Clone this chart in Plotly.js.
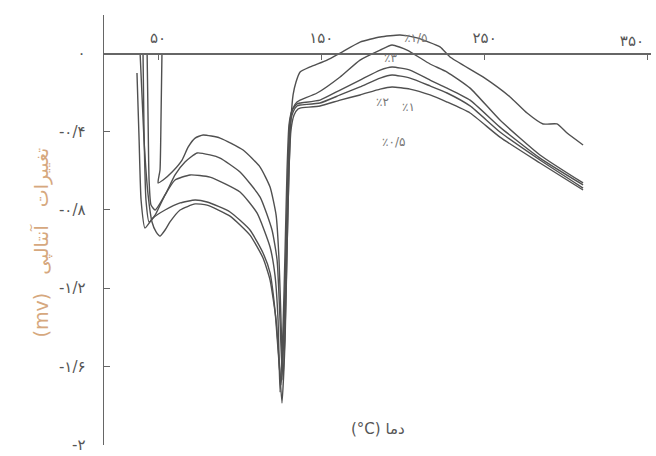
<!DOCTYPE html>
<html>
<head>
<meta charset="utf-8">
<script src="https://cdn.plot.ly/plotly-3.0.1.min.js"></script>
<style>html,body{margin:0;padding:0;background:#fff;}#chart{width:656px;height:456px;}</style>
</head>
<body>
<div id="chart"></div>
<script>
// Temperature (°C) and enthalpy change (mV)
const t15 = [52.4,51.8,51.2,50,53.1,58.6,64.7,68.4,72.7,77.6,88.0,102.1,112.5,118.6,122.3,124.1,125.3,126.5,127.8,129.0,130.2,131.4,132.7,134.5,137.0,143.1,153.5,161.5,173.7,186.0,198.2,208.6,222.7,228.8,249.0,265.6,276.0,285.8,294.3,300.5,310.3];
const v15 = [0,-0.342,-0.597,-0.663,-0.648,-0.607,-0.546,-0.480,-0.434,-0.418,-0.434,-0.495,-0.582,-0.684,-0.827,-1.056,-1.362,-1.668,-1.413,-1.005,-0.597,-0.342,-0.214,-0.148,-0.097,-0.071,-0.036,0,0.056,0.082,0.092,0.077,0.031,-0.020,-0.122,-0.224,-0.306,-0.362,-0.362,-0.408,-0.469];

const t3 = [43.3,43.9,44.5,45.7,48.2,54.3,60.4,66.5,73.9,81.8,88.0,100.2,112.5,119.8,122.9,124.7,125.9,127.2,128.4,129.6,130.8,132.7,135.1,137.0,147.4,161.5,173.7,186.0,193.3,202.5,216.6,227.0,241.1,259.4,283.9,310.3];
const v3 = [0,-0.342,-0.648,-0.776,-0.801,-0.724,-0.622,-0.556,-0.510,-0.520,-0.536,-0.607,-0.735,-0.903,-1.056,-1.362,-1.617,-1.362,-1.005,-0.597,-0.342,-0.281,-0.250,-0.240,-0.204,-0.122,-0.036,0.015,0.041,0.015,-0.056,-0.097,-0.179,-0.342,-0.520,-0.663];

const t2 = [40.8,41.4,42.6,44.5,48.2,54.3,60.4,69.6,81.8,100.2,110.6,118.6,121.6,123.5,124.7,126.5,127.8,129.0,130.2,132.1,135.1,137.0,149.2,161.5,173.7,186.0,193.3,204.3,216.6,227.0,241.1,259.4,283.9,310.3];
const v2 = [0,-0.393,-0.750,-0.862,-0.827,-0.724,-0.648,-0.622,-0.633,-0.709,-0.816,-0.990,-1.133,-1.362,-1.730,-1.413,-1.005,-0.597,-0.367,-0.291,-0.260,-0.255,-0.240,-0.189,-0.138,-0.087,-0.071,-0.087,-0.138,-0.179,-0.240,-0.378,-0.536,-0.673];

const t1 = [37.1,38.4,39.6,42.0,46.9,54.3,63.5,72.7,80.0,94.1,106.3,114.3,118.6,121.6,123.5,125.3,127.2,128.4,129.6,130.8,132.7,135.1,137.0,149.2,161.5,173.7,186.0,193.3,204.3,216.6,227.0,241.1,259.4,283.9,310.3];
const v1 = [-0.102,-0.444,-0.750,-0.893,-0.842,-0.801,-0.765,-0.750,-0.760,-0.811,-0.903,-1.020,-1.122,-1.311,-1.515,-1.694,-1.413,-1.005,-0.597,-0.367,-0.301,-0.270,-0.265,-0.255,-0.214,-0.173,-0.128,-0.112,-0.128,-0.168,-0.204,-0.270,-0.403,-0.546,-0.689];

const t05 = [39.0,41.4,43.9,46.3,48.8,51.2,54.3,57.3,63.5,72.7,80.0,94.1,106.3,114.3,118.6,122.3,124.1,125.9,127.8,129.0,130.2,131.4,133.3,135.7,137.0,149.2,161.5,173.7,186.0,193.3,204.3,216.6,227.0,241.1,259.4,283.9,310.3];
const v05 = [0,-0.444,-0.724,-0.862,-0.913,-0.934,-0.903,-0.862,-0.801,-0.770,-0.776,-0.832,-0.929,-1.046,-1.158,-1.362,-1.566,-1.786,-1.464,-1.005,-0.597,-0.393,-0.316,-0.286,-0.281,-0.270,-0.240,-0.214,-0.184,-0.173,-0.184,-0.214,-0.250,-0.306,-0.429,-0.561,-0.699];

const xTickVals = [50,150,250,350];
const xTickText = ['۵۰','۱۵۰','۲۵۰','۳۵۰'];
const yTickVals = [0,-0.4,-0.8,-1.2,-1.6,-2];
const yTickText = ['۰','-۰/۴','-۰/۸','-۱/۲','-۱/۶','-۲'];

const seriesLabels = ['٪۱/۵','٪۳','٪۲','٪۱','٪۰/۵'];
const labelT = [207.4,192.1,187.2,203.1,193.9];
const labelV = [0.077,-0.026,-0.250,-0.276,-0.454];

const xs = [t15,t3,t2,t1,t05];
const ys = [v15,v3,v2,v1,v05];

const lineColor = '#505050';
const traces = xs.map((x,i)=>({
  x:x, y:ys[i], type:'scatter', mode:'lines', name:seriesLabels[i],
  line:{color:lineColor,width:1.4,shape:'spline',smoothing:0.5},
  hoverinfo:'skip'
}));
// empty trace so the overlaying axis carrying the last tick label is drawn
traces.push({x:[], y:[], xaxis:'x2', yaxis:'y', type:'scatter', mode:'lines', hoverinfo:'skip'});

const font = 'DejaVu Sans, Noto Sans, sans-serif';
const annotations = seriesLabels.map((s,i)=>({
  x:labelT[i], y:labelV[i], xref:'x', yref:'y', text:s, showarrow:false,
  font:{family:font,size:12,color:'#777'}
}));
annotations.push({
  x:-0.14, y:0.472, xref:'paper', yref:'paper', text:'(mv)   تغییرات   آنتالپی',
  textangle:-90, showarrow:false, font:{family:font,size:19,color:'#d6a87e'}
});
annotations.push({
  x:0.501, y:0.012, xref:'paper', yref:'paper', text:'(°C) دما',
  showarrow:false, font:{family:font,size:15,color:'#555'}
});

const xRange = [16.9,351.9];
const layout = {
  width:656, height:456,
  margin:{l:104,r:5,t:15,b:11},
  paper_bgcolor:'#fff', plot_bgcolor:'#fff',
  showlegend:false,
  xaxis:{
    range:xRange, anchor:'free', position:0.9116, side:'top',
    showline:true, linecolor:'#666', linewidth:1.5, showgrid:false, zeroline:false,
    ticks:'inside', ticklen:5, tickcolor:'#666',
    tickvals:xTickVals, ticktext:xTickText.slice(0,3).concat(['']),
    ticklabelstandoff:4,
    tickfont:{family:font,size:15,color:'#555'}
  },
  xaxis2:{
    range:xRange, overlaying:'x', anchor:'free', position:0.9116, side:'top',
    showline:false, showgrid:false, zeroline:false, ticks:'',
    tickvals:xTickVals.slice(3), ticktext:xTickText.slice(3),
    ticklabelshift:-16, ticklabeloverflow:'allow', ticklabelstandoff:4,
    tickfont:{family:font,size:15,color:'#555'}
  },
  yaxis:{
    range:[-2.0,0.194], showline:true, linecolor:'#666', linewidth:1.5,
    showgrid:false, zeroline:false,
    ticks:'inside', ticklen:6, tickcolor:'#666',
    tickvals:yTickVals, ticktext:yTickText,
    tickfont:{family:font,size:15,color:'#555'},
    ticklabelstandoff:14
  },
  annotations:annotations
};

Plotly.newPlot('chart', traces, layout, {staticPlot:true, displayModeBar:false});
</script>
</body>
</html>
